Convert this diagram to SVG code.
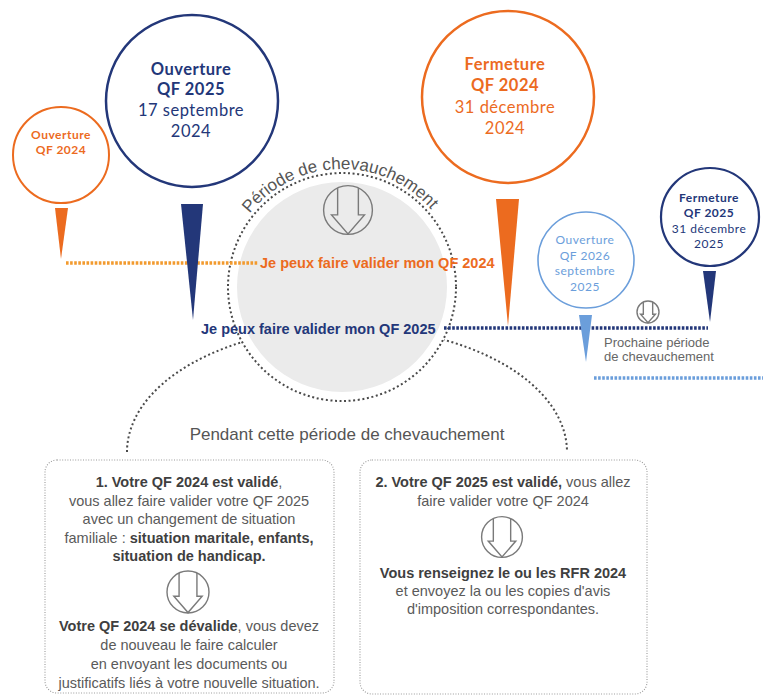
<svg xmlns="http://www.w3.org/2000/svg" xmlns:xlink="http://www.w3.org/1999/xlink" width="763" height="697" viewBox="0 0 763 697">
<style>
.hw{font-family:Lato,"DejaVu Sans",sans-serif;text-anchor:middle;letter-spacing:0.5px}
.b{font-weight:bold}
.t{font-family:"Liberation Sans",Arial,sans-serif;fill:#5a5a5a;font-size:14.5px;text-anchor:middle}
.t .b{fill:#3f3f3f}
.dot{fill:none;stroke:#4a4a4a;stroke-width:2;stroke-dasharray:2 2.6}
.box{fill:none;stroke:#9a9a9a;stroke-width:1.1;stroke-dasharray:1 1.6}
.line{fill:none;stroke-width:3.5;stroke-dasharray:2.6 1.5}
.ic{fill:none;stroke:#7a7a7a;stroke-width:1.4}
</style>
<defs>
<g id="ic" class="ic"><circle r="20" vector-effect="non-scaling-stroke"/><path vector-effect="non-scaling-stroke" d="M-8.5,-18.1 V4 H-13.5 L0,19.6 L13.5,4 H8.5 V-18.1"/></g>
<path id="arcTxt" d="M224,287 A118,118 0 0 1 460,287"/>
</defs>
<rect width="763" height="697" fill="#fff"/>

<g id="overlap">
<path class="dot" d="M127,452 A220,125 0 0 1 567,452"/>
<circle cx="342" cy="287" r="115" fill="#fff"/>
<circle cx="342" cy="287" r="105" fill="#ebebeb"/>
<circle class="dot" cx="342" cy="287" r="114"/>
<text font-family="Liberation Sans,Arial,sans-serif" font-size="17" fill="#555" text-anchor="middle"><textPath xlink:href="#arcTxt" startOffset="49.3%">Période de chevauchement</textPath></text>
<use xlink:href="#ic" transform="translate(348,210) scale(1.22)"/>
<text x="347" y="440" font-family="Liberation Sans,Arial,sans-serif" font-size="17" fill="#555" text-anchor="middle">Pendant cette période de chevauchement</text>
</g>

<g id="connectors">
<line class="line" x1="66" y1="263" x2="258" y2="263" stroke="#f29a2e"/>
<line class="line" x1="444" y1="328" x2="708" y2="328" stroke="#233779"/>
<line class="line" x1="594" y1="378" x2="763" y2="378" stroke="#6b9edb"/>
</g>

<g id="labels" font-family="Liberation Sans,Arial,sans-serif" font-weight="bold" font-size="14.5">
<text x="260" y="268" fill="#ec6b1f">Je peux faire valider mon QF 2024</text>
<text x="201" y="334" fill="#233779">Je peux faire valider mon QF 2025</text>
</g>

<g id="ouverture2024">
<circle cx="61" cy="155" r="48" fill="none" stroke="#ec6b1f" stroke-width="2"/>
<polygon points="55,208 68,208 61,259" fill="#ec6b1f"/>
<text class="hw b" fill="#ec6b1f" font-size="12"><tspan x="61" y="139">Ouverture</tspan><tspan x="61" y="154">QF 2024</tspan></text>
</g>

<g id="ouverture2025">
<circle cx="192" cy="101" r="86" fill="none" stroke="#233779" stroke-width="2.5"/>
<polygon points="181,204 203,204 193,320" fill="#233779"/>
<text class="hw" fill="#233779" font-size="16.5"><tspan class="b" x="191" y="75">Ouverture</tspan><tspan class="b" x="191" y="95">QF 2025</tspan><tspan x="191" y="116">17 septembre</tspan><tspan x="191" y="137">2024</tspan></text>
</g>

<g id="fermeture2024">
<circle cx="508" cy="97" r="86" fill="none" stroke="#ec6b1f" stroke-width="2.5"/>
<polygon points="496,199 519,199 508,326" fill="#ec6b1f"/>
<text class="hw" fill="#ec6b1f" font-size="16.5"><tspan class="b" x="505" y="70">Fermeture</tspan><tspan class="b" x="505" y="91">QF 2024</tspan><tspan x="505" y="113">31 décembre</tspan><tspan x="505" y="134">2024</tspan></text>
</g>

<g id="ouverture2026">
<circle cx="586" cy="260" r="48" fill="none" stroke="#6b9edb" stroke-width="1.6"/>
<polygon points="579,315 592,315 586,362" fill="#6b9edb"/>
<text class="hw" fill="#6b9edb" font-size="12"><tspan x="585" y="244">Ouverture</tspan><tspan x="585" y="260">QF 2026</tspan><tspan x="585" y="275">septembre</tspan><tspan x="585" y="291">2025</tspan></text>
</g>

<g id="fermeture2025">
<circle cx="710" cy="217" r="49" fill="none" stroke="#233779" stroke-width="2.2"/>
<polygon points="703,271 716,271 710,322" fill="#233779"/>
<text class="hw" fill="#233779" font-size="12"><tspan class="b" x="709" y="202">Fermeture</tspan><tspan class="b" x="709" y="217">QF 2025</tspan><tspan x="709" y="233">31 décembre</tspan><tspan x="709" y="248">2025</tspan></text>
</g>

<g id="prochaine">
<use xlink:href="#ic" transform="translate(648,312) scale(0.55)"/>
<text font-family="Liberation Sans,Arial,sans-serif" font-size="13" fill="#666"><tspan x="604" y="347">Prochaine période</tspan><tspan x="604" y="361">de chevauchement</tspan></text>
</g>

<g id="cas1">
<rect class="box" x="45" y="460" width="289" height="233" rx="12"/>
<text class="t"><tspan x="189" y="487"><tspan class="b">1. Votre QF 2024 est validé</tspan>,</tspan><tspan x="189" y="506">vous allez faire valider votre QF 2025</tspan><tspan x="189" y="524">avec un changement de situation</tspan><tspan x="189" y="543">familiale : <tspan class="b">situation maritale, enfants,</tspan></tspan><tspan class="b" x="189" y="561">situation de handicap.</tspan></text>
<use xlink:href="#ic" transform="translate(188,592) scale(1.05)"/>
<text class="t"><tspan x="189" y="631"><tspan class="b">Votre QF 2024 se dévalide</tspan>, vous devez</tspan><tspan x="189" y="650">de nouveau le faire calculer</tspan><tspan x="189" y="669">en envoyant les documents ou</tspan><tspan x="189" y="688">justificatifs liés à votre nouvelle situation.</tspan></text>
</g>

<g id="cas2">
<rect class="box" x="360" y="460" width="287" height="234" rx="12"/>
<text class="t"><tspan x="503" y="487"><tspan class="b">2. Votre QF 2025 est validé,</tspan> vous allez</tspan><tspan x="503" y="506">faire valider votre QF 2024</tspan></text>
<use xlink:href="#ic" transform="translate(502,537) scale(1.02)"/>
<text class="t"><tspan class="b" x="503" y="578">Vous renseignez le ou les RFR 2024</tspan><tspan x="503" y="596">et envoyez la ou les copies d'avis</tspan><tspan x="503" y="614">d'imposition correspondantes.</tspan></text>
</g>
</svg>
